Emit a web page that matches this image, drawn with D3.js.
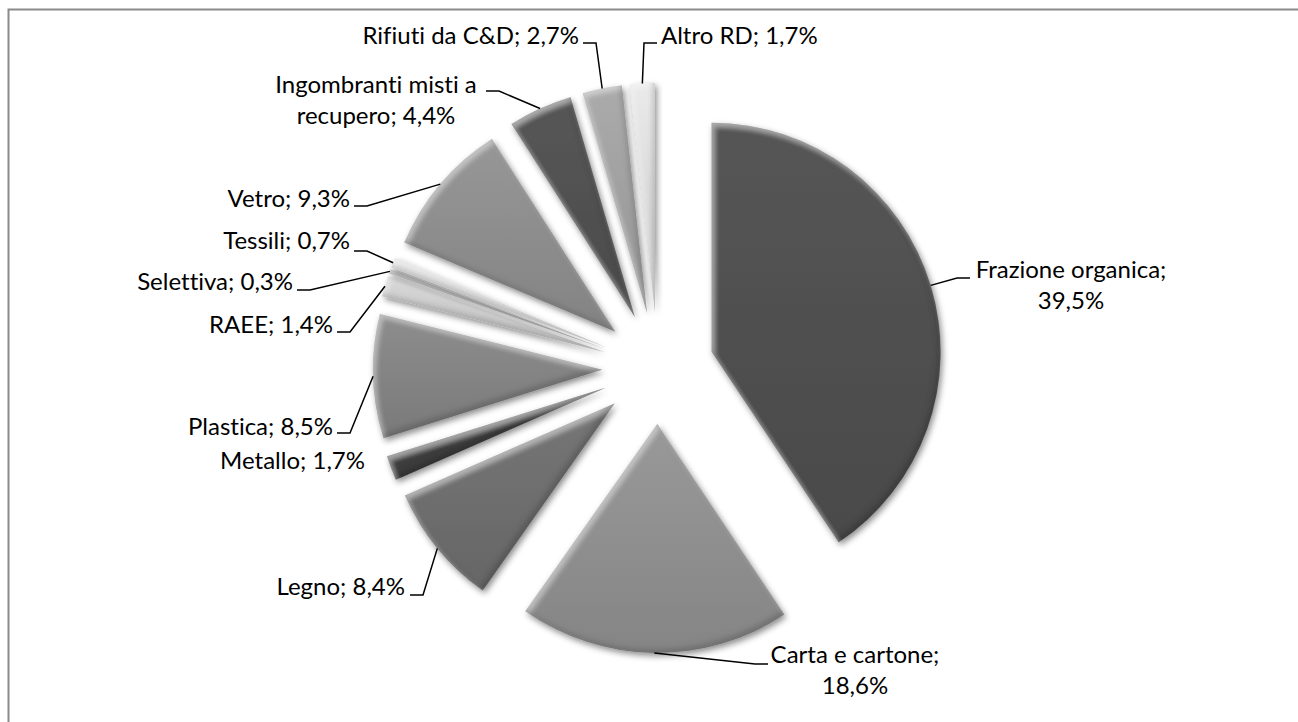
<!DOCTYPE html>
<html>
<head>
<meta charset="utf-8">
<script src="https://cdn.jsdelivr.net/npm/d3@7/dist/d3.min.js"></script>
<style>
  body { margin: 0; background: #fff; }
  svg { display: block; }
  .lbl { font-family: Lato, "Open Sans", sans-serif; font-size: 24px; fill: #000;
         font-variant-ligatures: none; font-feature-settings: "liga" 0, "clig" 0; }
</style>
</head>
<body>
<svg id="chart" width="1298" height="722"></svg>
<script>
// Raccolta differenziata per frazione merceologica (%)
const categories = [
  "Frazione organica", "Carta e cartone", "Legno", "Metallo", "Plastica",
  "RAEE", "Selettiva", "Tessili", "Vetro", "Ingombranti misti a recupero",
  "Rifiuti da C&D", "Altro RD"
];
const shares = [39.5, 18.6, 8.4, 1.7, 8.5, 1.4, 0.3, 0.7, 9.3, 4.4, 2.7, 1.7];
const shades = [
  "#4e4e4e", "#8c8c8c", "#6c6c6c", "#3e3e3e", "#818181",
  "#c6c6c6", "#bcbcbc", "#d2d2d2", "#8a8a8a", "#4f4f4f",
  "#9c9c9c", "#d6d6d6"
];

// label placement: text anchor, wrap point, leader start
const labelLayout = [
  { x: 1071, y: 278, anchor: "middle", wrap: true,  lead: [970, 278], dir: -1 },
  { x: 855,  y: 663, anchor: "middle", wrap: true,  lead: [768, 664], dir: -1 },
  { x: 405,  y: 595, anchor: "end",    wrap: false, lead: [410, 595], dir: 1 },
  { x: 365,  y: 469, anchor: "end",    wrap: false, lead: null },
  { x: 333,  y: 435, anchor: "end",    wrap: false, lead: [337, 433], dir: 1 },
  { x: 333,  y: 333, anchor: "end",    wrap: false, lead: [337, 332], dir: 1 },
  { x: 293,  y: 290, anchor: "end",    wrap: false, lead: [297, 290], dir: 1 },
  { x: 350,  y: 249, anchor: "end",    wrap: false, lead: [354, 251], dir: 1 },
  { x: 350,  y: 207, anchor: "end",    wrap: false, lead: [354, 206], dir: 1 },
  { x: 376,  y: 93,  anchor: "middle", wrap: "Ingombranti misti a", lead: [486, 91], dir: 1 },
  { x: 579,  y: 44,  anchor: "end",    wrap: false, lead: [583, 43], dir: 1 },
  { x: 661,  y: 44,  anchor: "start",  wrap: false, lead: [657, 43], dir: -1 }
];

const W = 1298, H = 722;
const cx = 658, cy = 368, R = 229, explode = 56;

const svg = d3.select("#chart");
const defs = svg.append("defs");

// soft drop shadow + edge bevel
const f = defs.append("filter").attr("id", "bevel")
  .attr("x", "-30%").attr("y", "-30%").attr("width", "160%").attr("height", "160%");
f.append("feGaussianBlur").attr("in", "SourceAlpha").attr("stdDeviation", 3).attr("result", "sb");
f.append("feOffset").attr("in", "sb").attr("dx", 1.5).attr("dy", 2.5).attr("result", "sbo");
f.append("feFlood").attr("flood-color", "#000").attr("flood-opacity", 0.45).attr("result", "sc");
f.append("feComposite").attr("in", "sc").attr("in2", "sbo").attr("operator", "in").attr("result", "shadow");
// highlight along upper/left edges
f.append("feGaussianBlur").attr("in", "SourceAlpha").attr("stdDeviation", 2.5).attr("result", "ib");
f.append("feOffset").attr("in", "ib").attr("dx", 3).attr("dy", 4).attr("result", "ibo");
f.append("feComposite").attr("in", "SourceAlpha").attr("in2", "ibo").attr("operator", "out").attr("result", "hiMask");
f.append("feFlood").attr("flood-color", "#fff").attr("flood-opacity", 0.35).attr("result", "hiC");
f.append("feComposite").attr("in", "hiC").attr("in2", "hiMask").attr("operator", "in").attr("result", "hi");
// shade along lower/right edges
f.append("feOffset").attr("in", "ib").attr("dx", -3).attr("dy", -4).attr("result", "ibo2");
f.append("feComposite").attr("in", "SourceAlpha").attr("in2", "ibo2").attr("operator", "out").attr("result", "loMask");
f.append("feFlood").attr("flood-color", "#000").attr("flood-opacity", 0.3).attr("result", "loC");
f.append("feComposite").attr("in", "loC").attr("in2", "loMask").attr("operator", "in").attr("result", "lo");
const fm = f.append("feMerge");
fm.append("feMergeNode").attr("in", "shadow");
fm.append("feMergeNode").attr("in", "SourceGraphic");
fm.append("feMergeNode").attr("in", "hi");
fm.append("feMergeNode").attr("in", "lo");

// vertical sheen per slice
shades.forEach((c, i) => {
  const g = defs.append("linearGradient").attr("id", "g" + i)
    .attr("x1", 0).attr("y1", 0).attr("x2", 0).attr("y2", 1);
  g.append("stop").attr("offset", "0%").attr("stop-color", d3.color(c).brighter(0.25));
  g.append("stop").attr("offset", "100%").attr("stop-color", d3.color(c).darker(0.15));
});

// frame (runs past the right and bottom edges of the view)
svg.append("rect")
  .attr("x", 8.5).attr("y", 9.5).attr("width", W + 40).attr("height", H + 40)
  .attr("fill", "none").attr("stroke", "#8a8a8a").attr("stroke-width", 2);

const data = categories.map((name, i) => ({ name, value: shares[i], i }));
const pie = d3.pie().sort(null).value(d => d.value);
const arcs = pie(data);
const arc = d3.arc().innerRadius(0).outerRadius(R);

const offset = a => {
  const m = (a.startAngle + a.endAngle) / 2;
  return [Math.sin(m) * explode, -Math.cos(m) * explode];
};

const g = svg.append("g").attr("transform", `translate(${cx},${cy})`);
g.selectAll("path.slice").data(arcs).join("path")
  .attr("class", "slice")
  .attr("transform", d => { const o = offset(d); return `translate(${o[0]},${o[1]})`; })
  .attr("d", arc)
  .attr("fill", d => `url(#g${d.data.i})`)
  .attr("filter", "url(#bevel)");

const fmt = v => d3.format(".1f")(v).replace(".", ",") + "%";

// leader lines from label to the middle of each slice's outer rim
const outer = d3.arc().innerRadius(R).outerRadius(R);
arcs.forEach(d => {
  const L = labelLayout[d.data.i];
  if (!L.lead) return;
  const o = offset(d);
  const c = outer.centroid(d);
  const end = [cx + c[0] + o[0], cy + c[1] + o[1]];
  const pts = [L.lead, [L.lead[0] + L.dir * 13, L.lead[1]], end];
  svg.append("path")
    .attr("d", d3.line()(pts))
    .attr("fill", "none").attr("stroke", "#000").attr("stroke-width", 1.5);
});

// labels
arcs.forEach(d => {
  const L = labelLayout[d.data.i];
  const full = d.data.name + "; " + fmt(d.data.value);
  let lines;
  if (L.wrap === true) lines = [d.data.name + ";", fmt(d.data.value)];
  else if (typeof L.wrap === "string") lines = [L.wrap, full.slice(L.wrap.length + 1)];
  else lines = [full];
  const t = svg.append("text").attr("class", "lbl")
    .attr("text-anchor", L.anchor);
  lines.forEach((s, k) => {
    t.append("tspan").attr("x", L.x).attr("y", L.y + k * 31).text(s);
  });
});
</script>
</body>
</html>
